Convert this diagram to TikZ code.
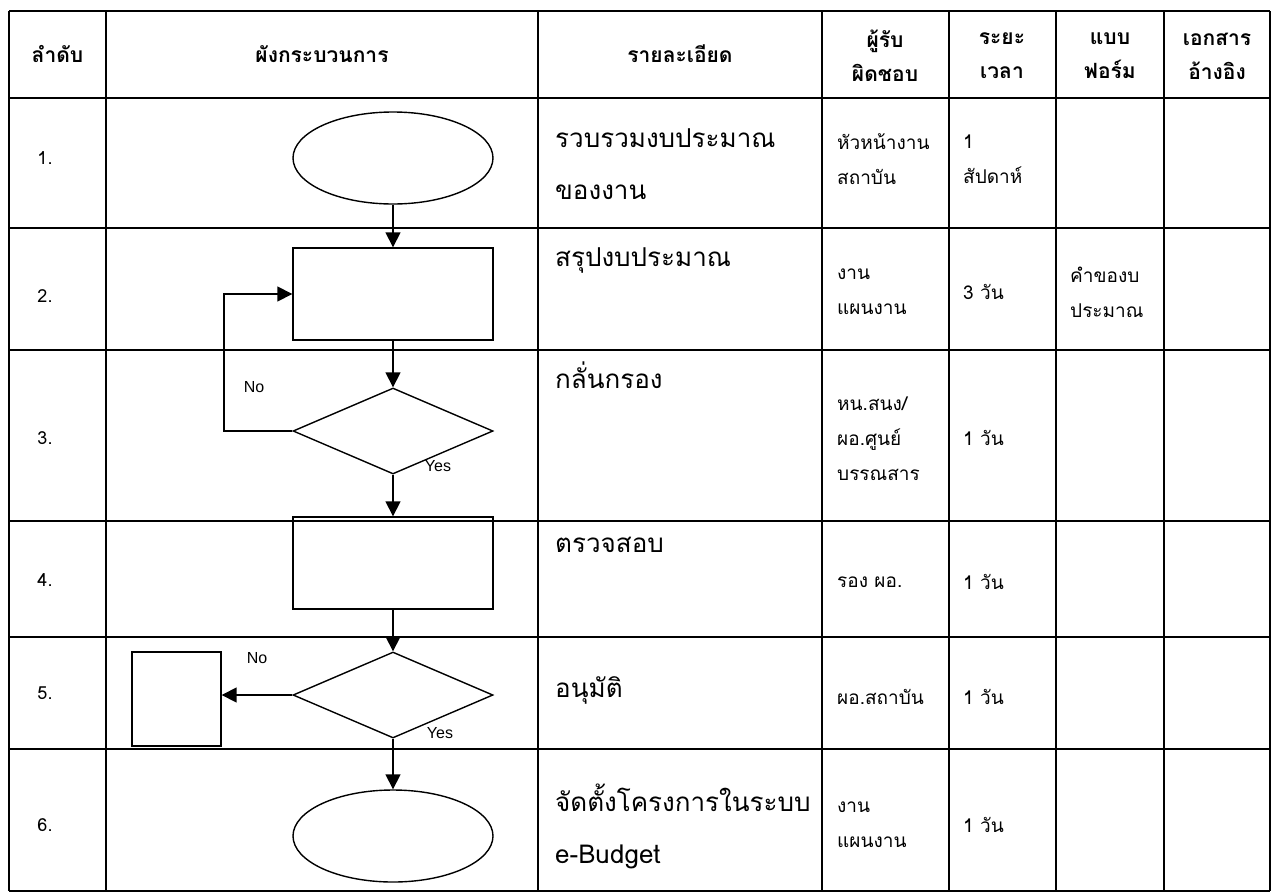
\documentclass[tikz,border=0pt]{standalone}
\usepackage{fontspec}
\newfontfamily\thai[Script=Thai]{Loma}
\newfontfamily\arialf{Liberation Sans}
\usetikzlibrary{shapes.geometric,arrows.meta}
\tikzset{
  grid/.style={line width=2.2pt},
  shp/.style={draw, line width=1.4pt, inner sep=0pt, minimum width=200pt},
  ellip/.style={shp, ellipse, minimum height=92pt},
  box/.style={shp, rectangle, minimum height=92pt},
  dia/.style={shp, diamond, minimum height=86pt},
  arr/.style={line width=1.6pt, -{Triangle[length=15pt,width=15pt]}},
  hd/.style={font=\thai\bfseries\fontsize{21}{34}\selectfont, align=center, inner sep=0pt},
  num/.style={font=\thai\fontsize{18}{20}\selectfont, inner sep=0pt},
  det/.style={font=\thai\fontsize{26}{52}\selectfont, align=left, anchor=west, inner sep=0pt},
  cell/.style={font=\thai\fontsize{19}{35}\selectfont, align=left, anchor=west, inner sep=0pt},
  yn/.style={font=\arialf\fontsize{16}{18}\selectfont, inner sep=0pt}
}
\begin{document}
\begin{tikzpicture}[x=1pt,y=-1pt]
\useasboundingbox (0,0) rectangle (1273,894);
% table grid
\foreach \x in {9,106,538,822,949,1056,1164,1270} \draw[grid] (\x,11) -- (\x,891);
\foreach \y in {11,98,228,350,521,637,749,891} \draw[grid] (9,\y) -- (1270,\y);
% header
\node[hd] (h1) at (57.5,54) {ลำดับ};
\node[hd] (h2) at (322,54) {ผังกระบวนการ};
\node[hd] (h3) at (680,54) {รายละเอียด};
\node[hd] (h4) at (885,56) {ผู้รับ\\ผิดชอบ};
\node[hd] (h5) at (1002,56) {ระยะ\\เวลา};
\node[hd] (h6) at (1110,56) {แบบ\\ฟอร์ม};
\node[hd] (h7) at (1217,56) {เอกสาร\\อ้างอิง};
% row numbers
\node[num] (n1) at (45,158) {1.};
\node[num] (n2) at (45,296) {2.};
\node[num] (n3) at (45,438) {3.};
\node[num] (n4) at (45,580) {4.};
\node[num] (n5) at (45,693) {5.};
\node[num] (n6) at (45,825) {6.};
% flowchart
\node[ellip] (s1) at (393,158) {};
\node[box] (s2) at (393,294) {};
\node[dia] (s3) at (393,431) {};
\node[box] (s4) at (393,563) {};
\node[dia] (s5) at (393,695) {};
\node[draw, line width=1.4pt, minimum width=89pt, minimum height=94pt, inner sep=0pt] (no5) at (176.5,699) {};
\node[ellip] (s6) at (393,836) {};
\coordinate (c3) at (224,431);
\draw[arr] (s1.south) -- (s2.north);
\draw[arr] (s2.south) -- (s3.north);
\draw[arr] (s3.west) -- (c3) |- (s2.west);
\draw[arr] (s3.south) -- (s4.north);
\draw[arr] (s4.south) -- (s5.north);
\draw[arr] (s5.west) -- (s5.west -| no5.east);
\draw[arr] (s5.south) -- (s6.north);
\node[yn] (no3) at (254,387) {No};
\node[yn] (yes3) at (438,466) {Yes};
\node[yn] (no5l) at (257,658) {No};
\node[yn] (yes5) at (440,733) {Yes};
% details
\node[det] (d1) at (555,164) {รวบรวมงบประมาณ\\ของงาน};
\node[det] (d2) at (555,260) {สรุปงบประมาณ};
\node[det] (d3) at (555,375) {กลั่นกรอง};
\node[det] (d4) at (555,545) {ตรวจสอบ};
\node[det] (d5) at (555,690) {อนุมัติ};
\node[det] (d6) at (555,826) {จัดตั้งโครงการในระบบ\\e-Budget};
% responsible
\node[cell] (r1) at (837,159) {หัวหน้างาน\\สถาบัน};
\node[cell] (r2) at (837,292) {งาน\\แผนงาน};
\node[cell] (r3) at (837,439) {หน.สนง/\\ผอ.ศูนย์\\บรรณสาร};
\node[cell] (r4) at (837,582) {รอง ผอ.};
\node[cell] (r5) at (837,697) {ผอ.สถาบัน};
\node[cell] (r6) at (837,825) {งาน\\แผนงาน};
% time
\node[cell] (t1) at (963,159) {1\\สัปดาห์};
\node[cell] (t2) at (963,292) {3 วัน};
\node[cell] (t3) at (963,438) {1 วัน};
\node[cell] (t4) at (963,582) {1 วัน};
\node[cell] (t5) at (963,697) {1 วัน};
\node[cell] (t6) at (963,825) {1 วัน};
% form
\node[cell] (f2) at (1070,292) {คำของบ\\ประมาณ};
\end{tikzpicture}
\end{document}
